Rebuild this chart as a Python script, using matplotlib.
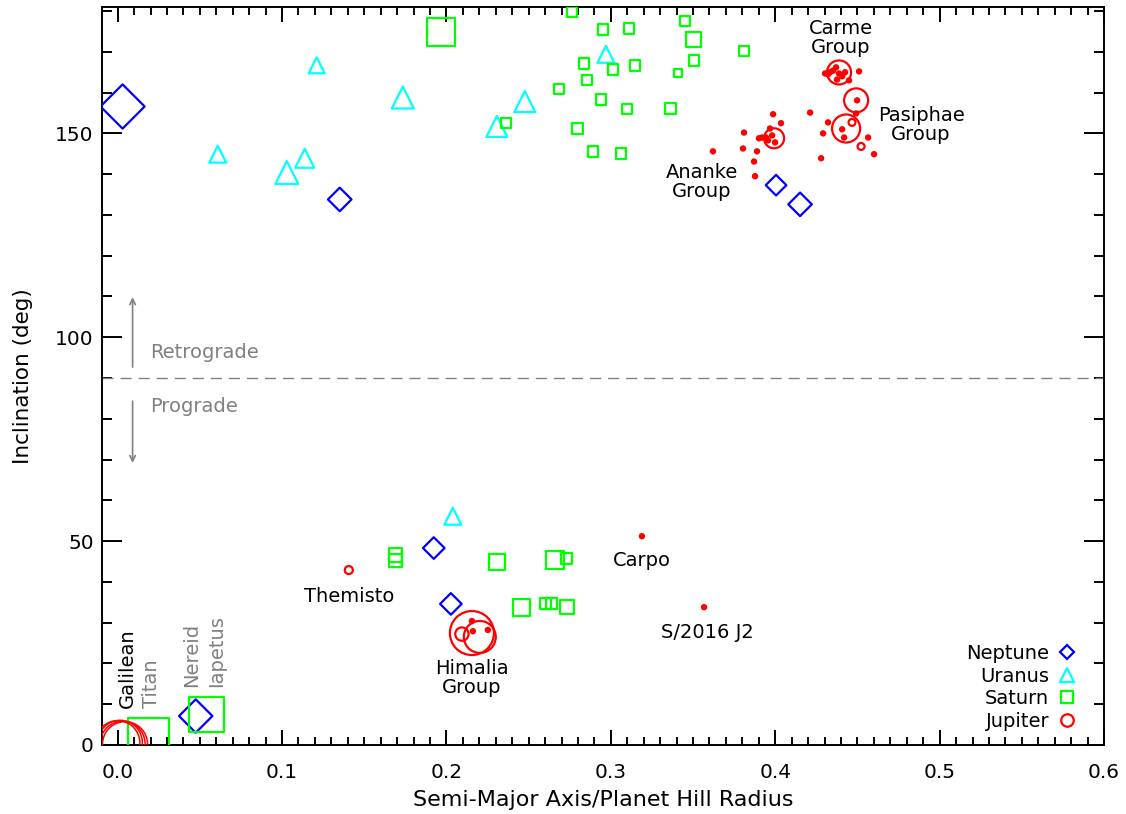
import numpy as np
import matplotlib
matplotlib.use("Agg")
import matplotlib.pyplot as plt
from matplotlib.lines import Line2D

# Irregular satellites: semi-major axis / Hill radius vs inclination
# symbol sizes are in points and follow the body size in the original figure

nep_a = [0.003, 0.1351, 0.4005, 0.4151, 0.1923, 0.2027, 0.0475]
nep_i = [156.6, 133.8, 137.3, 132.6, 48.3, 34.6, 7.1]
nep_sz = [22.5, 12, 10.5, 12, 11, 11, 17]

ura_a = [0.1211, 0.0609, 0.1029, 0.1138, 0.1735, 0.2307, 0.2477, 0.2970, 0.2039]
ura_i = [166.7, 144.9, 140.4, 143.9, 158.8, 151.7, 157.8, 169.4, 56.1]
ura_sz = [11.5, 12.2, 16.5, 13.7, 15.8, 15.1, 15.1, 12.2, 12.2]

sat_a = [0.1966, 0.2362, 0.2763, 0.2952, 0.3110, 0.3451, 0.3500, 0.3810, 0.3506,
         0.3408, 0.2836, 0.3013, 0.3147, 0.2855, 0.2684, 0.2940, 0.3098, 0.3360,
         0.2800, 0.2891, 0.3061,
         0.1692, 0.1692, 0.2307, 0.2660, 0.2733, 0.2459, 0.2605, 0.2642, 0.2733,
         0.0187, 0.0542]
sat_i = [174.8, 152.5, 179.7, 175.5, 175.7, 177.5, 173.0, 170.3, 167.9,
         164.7, 167.2, 165.7, 166.7, 163.2, 161.0, 158.3, 156.1, 156.1,
         151.2, 145.6, 145.1,
         46.6, 45.3, 44.9, 45.3, 45.8, 33.8, 34.8, 34.6, 33.8,
         1.6, 7.5]
sat_sz = [20, 7.6, 7.2, 7.6, 7.6, 7.2, 10.8, 7.2, 7.6,
          5.8, 7.6, 7.6, 7.6, 7.2, 7.2, 7.6, 7.2, 7.9,
          7.9, 7.6, 7.6,
          9.4, 9.4, 11.5, 13, 7.9, 12.2, 7.9, 7.9, 10,
          29.5, 25.2]

# Galilean moons (drawn thinner, they overlap at the origin)
gal_a = [0.0, 0.0015, 0.003, 0.0045]
gal_i = [0.5, 0.6, 0.3, 0.2]
gal_sz = [32.0, 32.0, 32.4, 32.4]

jup_a = [0.2155, 0.2203, 0.2094, 0.2161, 0.2252, 0.2155,
         0.1406, 0.3189, 0.3567,
         0.4388, 0.4492, 0.4431, 0.3993, 0.4467, 0.4522,
         0.4303, 0.4334, 0.4352, 0.4370, 0.4376, 0.4388, 0.4425, 0.4449, 0.4510,
         0.4321, 0.4407,
         0.4498, 0.4492, 0.4407, 0.4419, 0.4565, 0.4601, 0.4321, 0.4291, 0.4212,
         0.4279,
         0.3987, 0.4035, 0.3810, 0.3621, 0.3804, 0.3889, 0.3871, 0.3877, 0.3901,
         0.3920, 0.3968, 0.3956, 0.3981, 0.3999, 0.3944]
jup_i = [27.45, 26.5, 27.2, 27.9, 28.2, 30.4,
         42.9, 51.2, 33.8,
         164.95, 158.1, 151.2, 148.8, 152.7, 146.8,
         164.7, 165.0, 165.4, 166.2, 163.2, 164.7, 165.0, 163.0, 165.2,
         164.5, 164.0,
         158.1, 154.9, 151.0, 149.0, 149.0, 144.9, 152.7, 150.0, 155.1,
         143.9,
         154.7, 152.5, 150.2, 145.6, 146.3, 145.6, 143.1, 139.5, 148.8,
         149.0, 151.2, 148.3, 149.5, 147.8, 149.0]
jup_sz = [31.7, 23, 9.6, 3, 3, 3,
          5.8, 3, 3,
          17.3, 17.3, 20.2, 14.4, 5, 5] + [3] * 36

group_labels = ["Carme\nGroup", "Pasiphae\nGroup", "Ananke\nGroup",
                "Himalia\nGroup", "Themisto", "Carpo", "S/2016 J2"]
group_x = [0.4400, 0.4887, 0.3554, 0.2155, 0.1406, 0.3190, 0.3590]
group_y = [173.5, 152.0, 138.0, 16.4, 36.3, 45.3, 27.7]

side_labels = ["Galilean", "Titan", "Nereid", "Iapetus"]
side_x = [0.0061, 0.0207, 0.0450, 0.0603]
side_y = [9.1, 9.1, 14.2, 14.2]
side_col = ["black", "gray", "gray", "gray"]

fig = plt.figure(figsize=(11.26, 8.14), dpi=100)
ax = fig.add_axes([0.0906, 0.0848, 0.8899, 0.9066])

lw = 1.6
ax.scatter(nep_a, nep_i, s=np.square(nep_sz), marker="D", facecolors="none",
           edgecolors="blue", linewidths=lw, zorder=3)
ax.scatter(ura_a, ura_i, s=np.square(ura_sz), marker="^", facecolors="none",
           edgecolors="cyan", linewidths=lw, zorder=3)
ax.scatter(sat_a, sat_i, s=np.square(sat_sz), marker="s", facecolors="none",
           edgecolors="lime", linewidths=lw, zorder=3)
ax.scatter(gal_a, gal_i, s=np.square(gal_sz), marker="o", facecolors="none",
           edgecolors="red", linewidths=1.1, zorder=4)
jup_fc = ["red" if s <= 3 else "none" for s in jup_sz]
ax.scatter(jup_a, jup_i, s=np.square(jup_sz), marker="o", facecolors=jup_fc,
           edgecolors="red", linewidths=lw, zorder=4)

# prograde / retrograde divide
ax.axhline(90, color="gray", lw=1.0, ls=(0, (8, 5)))
ax.annotate("", xy=(0.0091, 110.5), xytext=(0.0091, 92),
            arrowprops=dict(arrowstyle="->", color="gray", lw=1.2))
ax.annotate("", xy=(0.0091, 68.5), xytext=(0.0091, 85),
            arrowprops=dict(arrowstyle="->", color="gray", lw=1.2))
ax.text(0.020, 96.3, "Retrograde", color="gray", fontsize=14, va="center")
ax.text(0.020, 83.1, "Prograde", color="gray", fontsize=14, va="center")

for lab, x, y in zip(group_labels, group_x, group_y):
    ax.text(x, y, lab, fontsize=14, ha="center", va="center", linespacing=1.0)
for lab, x, y, c in zip(side_labels, side_x, side_y, side_col):
    ax.text(x, y, lab, fontsize=14, color=c, rotation=90, ha="center", va="bottom")

ax.set_xlim(-0.0095, 0.6)
ax.set_ylim(0, 181)
ax.set_xticks(np.arange(0, 0.61, 0.1))
ax.set_xticklabels(["0.0", "0.1", "0.2", "0.3", "0.4", "0.5", "0.6"])
ax.set_xticks(np.arange(0, 0.6, 0.01), minor=True)
ax.set_yticks([0, 50, 100, 150])
ax.set_yticks(np.arange(0, 181, 10), minor=True)
ax.tick_params(which="both", direction="in", top=True, right=True,
               labelsize=14.5, width=1.4)
ax.tick_params(axis="x", which="major", length=11, pad=13)
ax.tick_params(axis="x", which="minor", length=5.8)
ax.tick_params(axis="y", which="major", length=14.4, pad=6)
ax.tick_params(axis="y", which="minor", length=7)
for sp in ax.spines.values():
    sp.set_linewidth(1.4)

ax.set_xlabel("Semi-Major Axis/Planet Hill Radius", fontsize=16, labelpad=6)
ax.set_ylabel("Inclination (deg)", fontsize=15.5, labelpad=16)

handles = [
    Line2D([], [], ls="none", marker="D", ms=7.5, mfc="none", mec="blue", mew=lw),
    Line2D([], [], ls="none", marker="^", ms=9.6, mfc="none", mec="cyan", mew=lw),
    Line2D([], [], ls="none", marker="s", ms=9, mfc="none", mec="lime", mew=lw),
    Line2D([], [], ls="none", marker="o", ms=9, mfc="none", mec="red", mew=lw),
]
ax.legend(handles, ["Neptune", "Uranus", "Saturn", "Jupiter"], loc="lower right",
          bbox_to_anchor=(0.985, 0.001), frameon=False, markerfirst=False,
          fontsize=14, handlelength=0.9, handletextpad=0.45, labelspacing=0.18,
          borderpad=0.2)

fig.savefig("out.png", dpi=100)
